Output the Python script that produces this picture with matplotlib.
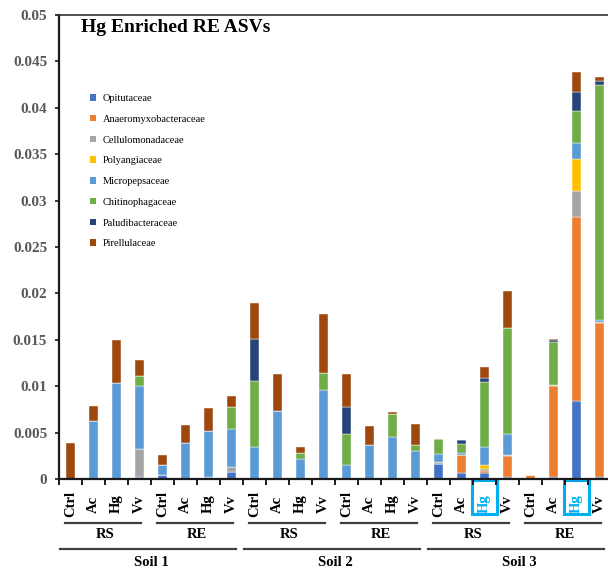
import matplotlib
matplotlib.use("Agg")
import matplotlib.pyplot as plt
from matplotlib.patches import Patch, Rectangle
import numpy as np

plt.rcParams['font.family'] = ['Liberation Serif', 'DejaVu Serif']

# 24 bars: Soil 1/2/3 x (RS, RE) x treatments
treatments = ["Ctrl", "Ac", "Hg", "Vv"]
compartments = ["RS", "RE"]
soils = ["Soil 1", "Soil 2", "Soil 3"]
tick_labels = treatments * (len(soils) * len(compartments))
highlight = [18, 22]

families = ["Opitutaceae", "Anaeromyxobacteraceae", "Cellulomonadaceae",
            "Polyangiaceae", "Micropepsaceae", "Chitinophagaceae",
            "Paludibacteraceae", "Pirellulaceae"]
colors = ["#4472C4", "#ED7D31", "#A5A5A5", "#FFC000",
          "#5B9BD5", "#70AD47", "#264478", "#9E480E"]

opitutaceae = [0, 0, 0, 0.0002, 0.0004, 0, 0.00025, 0.0008,
               0, 0, 0, 0, 0, 0, 0, 0,
               0.0016, 0.0007, 0.0006, 0.0002, 0, 0.0002, 0.0084, 0.00025]
anaeromyxobacteraceae = [0, 0, 0, 0, 0, 0, 0, 0,
                         0, 0, 0, 0, 0, 0, 0, 0,
                         0, 0.0019, 0.0003, 0.0023, 0.0004, 0.0098, 0.0198, 0.0166]
cellulomonadaceae = [0, 0, 0, 0.003, 0, 0, 0, 0.00047,
                     0, 0, 0, 0, 0, 0, 0, 0,
                     0.0002, 0, 0.00015, 0.0001, 0, 0.00015, 0.0028, 0.0001]
polyangiaceae = [0, 0, 0, 0, 0, 0, 0, 0,
                 0, 0, 0, 0, 0, 0, 0, 0,
                 0, 0, 0.0005, 0, 0, 0, 0.0035, 0]
micropepsaceae = [0, 0.0063, 0.0103, 0.0068, 0.00115, 0.0039, 0.0049, 0.0041,
                  0.0035, 0.0073, 0.0022, 0.0096, 0.0015, 0.0037, 0.0045, 0.003,
                  0.00085, 0.00025, 0.0019, 0.0022, 0, 0, 0.0017, 0.0002]
chitinophagaceae = [0, 0, 0, 0.00105, 0, 0, 0, 0.0024,
                    0.0071, 0, 0.0006, 0.0018, 0.0034, 0, 0.0025, 0.00065,
                    0.0017, 0.0009, 0.007, 0.0115, 0, 0.0046, 0.0035, 0.0253]
paludibacteraceae = [0, 0, 0, 0, 0, 0, 0, 0,
                     0.0045, 0, 0, 0, 0.0029, 0, 0, 0,
                     0, 0.0004, 0.0004, 0, 0, 0.0002, 0.002, 0.0004]
pirellulaceae = [0.0039, 0.0016, 0.0047, 0.0018, 0.00105, 0.0019, 0.0025, 0.0012,
                 0.0039, 0.004, 0.0006, 0.0064, 0.0035, 0.002, 0.00026, 0.0023,
                 0, 0, 0.0012, 0.004, 0, 0.0001, 0.0022, 0.0005]

series = [opitutaceae, anaeromyxobacteraceae, cellulomonadaceae, polyangiaceae,
          micropepsaceae, chitinophagaceae, paludibacteraceae, pirellulaceae]

y_ticks = [0, 0.005, 0.01, 0.015, 0.02, 0.025, 0.03, 0.035, 0.04, 0.045, 0.05]
y_tick_labels = ["0", "0.005", "0.01", "0.015", "0.02", "0.025",
                 "0.03", "0.035", "0.04", "0.045", "0.05"]

W, H = 608, 572
fig = plt.figure(figsize=(W / 100, H / 100), dpi=100)
ax = fig.add_axes([59 / W, (H - 479) / H, 552 / W, 464 / H])

x = np.arange(len(tick_labels))
bottom = np.zeros(len(x))
for vals, col in zip(series, colors):
    v = np.array(vals)
    ax.bar(x, v, bottom=bottom, width=0.42, color=col,
           edgecolor="white", linewidth=0.3, zorder=2)
    bottom += v

ax.set_xlim(-0.5, len(x) - 0.5)
ax.set_ylim(0, 0.05)

# Axes frame
for s in ["left", "bottom"]:
    ax.spines[s].set_linewidth(1.6)
    ax.spines[s].set_color("#1a1a1a")
ax.spines["top"].set_linewidth(1.2)
ax.spines["top"].set_color("#333333")
ax.spines["right"].set_visible(False)

# Y axis
ax.set_yticks(y_ticks)
ax.set_yticklabels(y_tick_labels)
ax.tick_params(axis="y", length=3, width=1.2, pad=5.5, colors="#1a1a1a",
               labelsize=11, labelcolor="#595959")
for t in ax.get_yticklabels():
    t.set_fontweight("bold")

# X axis: category labels and boundary tick marks
ax.set_xticks(x)
ax.set_xticklabels(tick_labels)
ax.set_xticks(np.arange(-0.5, len(x)), minor=True)
ax.tick_params(axis="x", which="major", length=0, pad=18, labelsize=10.5,
               labelrotation=90)
ax.tick_params(axis="x", which="minor", length=4, width=1.4, colors="#1a1a1a")
for i, t in enumerate(ax.get_xticklabels()):
    t.set_fontweight("bold")
    t.set_verticalalignment("center")
    if i in highlight:
        t.set_color("#00B0F0")

trans = ax.get_xaxis_transform()
px = 1 / 464.0
for i in highlight:
    ax.add_patch(Rectangle((i - 0.54, -35 * px), 1.08, 34 * px, transform=trans,
                           fill=False, edgecolor="#00B0F0", linewidth=2.2,
                           clip_on=False))

# Compartment and soil brackets
line_col = "#404040"
for si, soil in enumerate(soils):
    for ci, comp in enumerate(compartments):
        g0 = si * 8 + ci * 4 - 0.5
        ax.plot([g0 + 0.27, g0 + 4 - 0.42], [-43.7 * px] * 2, transform=trans,
                color=line_col, linewidth=1.6, clip_on=False)
        ax.text(g0 + 2, -56 * px, comp, transform=trans, ha="center",
                va="center", fontsize=10.5, fontweight="bold")
    s0 = si * 8 - 0.5
    ax.plot([s0 + 0.05, s0 + 8 - 0.3], [-70 * px] * 2, transform=trans,
            color=line_col, linewidth=1.6, clip_on=False)
    ax.text(s0 + 4, -83 * px, soil, transform=trans, ha="center", va="center",
            fontsize=10.5, fontweight="bold")

# Title
fig.text(81 / W, 1 - 28 / H, "Hg Enriched RE ASVs", ha="left", va="center",
         fontsize=14, fontweight="bold")

# Legend
handles = [Patch(facecolor=c, edgecolor="none") for c in colors]
fig.legend(handles, families, loc="upper left",
           bbox_to_anchor=(90 / W, 1 - 94 / H), frameon=False,
           fontsize=7.5, handlelength=0.6, handleheight=0.6,
           handletextpad=0.6, labelspacing=1.13, borderpad=0,
           borderaxespad=0)

fig.savefig("out.png", dpi=100)
